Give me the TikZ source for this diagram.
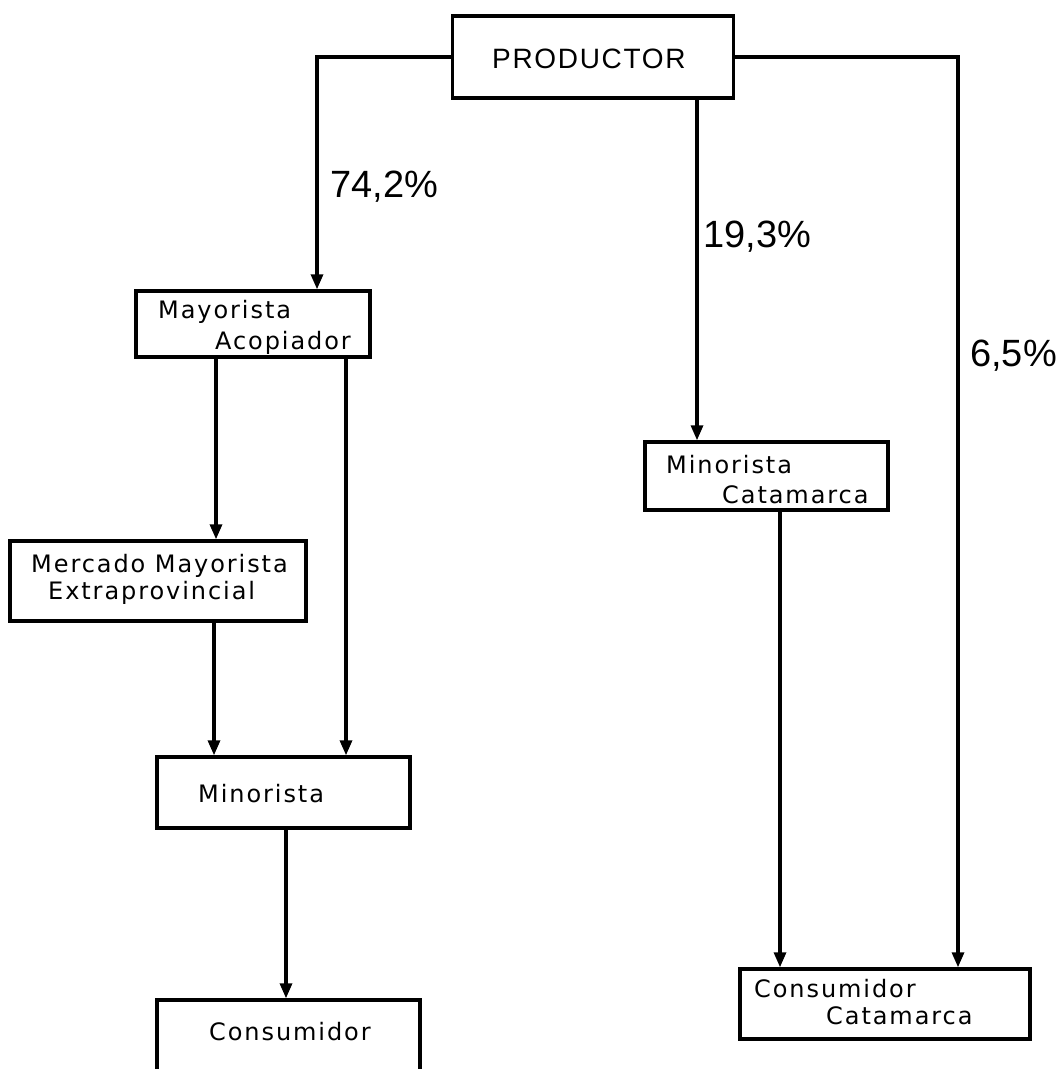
\documentclass[tikz,border=0pt]{standalone}
\usepackage{fontspec}
\setmainfont{Liberation Sans}
\newfontfamily\labfont[LetterSpace=8]{DejaVu Sans}
\newfontfamily\prodfont[LetterSpace=6]{Liberation Sans}
\usetikzlibrary{arrows.meta}
\begin{document}
\begin{tikzpicture}[x=1pt,y=-1pt,
  box/.style={draw, line width=3.4pt, inner sep=0pt, rectangle},
  lab/.style={anchor=base west, inner sep=0pt, font=\labfont\fontsize{24}{28}\selectfont},
  pct/.style={anchor=base west, inner sep=0pt, font=\fontsize{38}{42}\selectfont},
  flow/.style={line width=3.2pt, -{Triangle[length=15pt,width=12pt]}}]
\path[use as bounding box] (0,0) rectangle (1063,1069);
\clip (0,0) rectangle (1063,1069);
\fill[white] (0,0) rectangle (1063,1069);

% boxes
\node[box, minimum width=281pt, minimum height=82pt] (prod) at (593,57) {};
\node[box, minimum width=234pt, minimum height=66pt] (may) at (253,324) {};
\node[box, minimum width=296pt, minimum height=80pt] (merc) at (158,581) {};
\node[box, minimum width=253pt, minimum height=71pt] (mino) at (283.5,792.5) {};
\node[box, minimum width=263pt, minimum height=100pt] (cons) at (288.5,1050) {};
\node[box, minimum width=243pt, minimum height=68pt] (minc) at (766.5,476) {};
\node[box, minimum width=290pt, minimum height=70pt] (consc) at (885,1004) {};

% texts
\node[anchor=base west, inner sep=0pt, font=\prodfont\fontsize{28}{32}\selectfont] (tprod) at (492,68) {PRODUCTOR};
\node[lab] (tmay1) at (158,318) {Mayorista};
\node[lab] (tmay2) at (215,349) {Acopiador};
\node[lab] (tmerc1) at (31,572) {Mercado Mayorista};
\node[lab] (tmerc2) at (48,599) {Extraprovincial};
\node[lab] (tmino) at (198,802) {Minorista};
\node[lab] (tcons) at (209,1040) {Consumidor};
\node[lab] (tminc1) at (666,473) {Minorista};
\node[lab] (tminc2) at (722,503) {Catamarca};
\node[lab] (tconsc1) at (754,997) {Consumidor};
\node[lab] (tconsc2) at (826,1024) {Catamarca};

\node[pct] (p1) at (330,197) {74,2\%};
\node[pct] (p2) at (703,247) {19,3\%};
\node[pct] (p3) at (970,366) {6,5\%};

% column x positions
\coordinate (xa) at (317,0);
\coordinate (xb) at (958,0);
\coordinate (xc) at (697,0);
\coordinate (xd) at (216,0);
\coordinate (xe) at (346,0);
\coordinate (xf) at (214,0);
\coordinate (xg) at (286,0);
\coordinate (xh) at (780,0);

% connectors
\draw[flow] (prod.west) -| (xa |- may.north);
\draw[flow] (prod.east) -| (xb |- consc.north);
\draw[flow] (xc |- prod.south) -- (xc |- minc.north);
\draw[flow] (xd |- may.south) -- (xd |- merc.north);
\draw[flow] (xe |- may.south) -- (xe |- mino.north);
\draw[flow] (xf |- merc.south) -- (xf |- mino.north);
\draw[flow] (xg |- mino.south) -- (xg |- cons.north);
\draw[flow] (xh |- minc.south) -- (xh |- consc.north);
\end{tikzpicture}
\end{document}
